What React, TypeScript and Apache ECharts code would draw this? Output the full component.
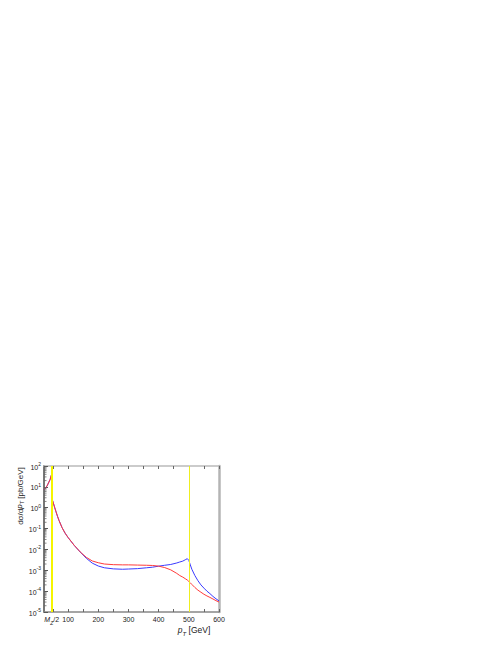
import React, { useEffect, useRef } from "react";
import * as echarts from "echarts";

const pT = [20, 30, 40, 44, 45.6, 46, 48, 50, 55, 60, 65, 70, 80, 90, 100, 120, 140, 160, 180, 200, 220, 250, 280, 300, 330, 360, 380, 400, 420, 440, 460, 470, 480, 490, 495, 500, 505, 510, 520, 530, 540, 550, 560, 570, 580, 590, 600];
const redVals = [7.2, 11, 22, 35, 42, 2.8, 2.3, 1.86, 1.07, 0.63, 0.38, 0.24, 0.11, 0.06, 0.037, 0.0158, 0.0076, 0.0042, 0.0028, 0.0023, 0.002, 0.00186, 0.00182, 0.00182, 0.00178, 0.00174, 0.0017, 0.00158, 0.00135, 0.00105, 0.00071, 0.00056, 0.00047, 0.00038, 0.00034, 0.00029, 0.00025, 0.00021, 0.00015, 0.000112, 0.000089, 0.000071, 0.000059, 0.00005, 0.000042, 0.000035, 0.00003];
const blueVals = [7.2, 11, 22, 35, 42, 2.8, 2.3, 1.86, 1.07, 0.63, 0.38, 0.24, 0.11, 0.06, 0.037, 0.0157, 0.0075, 0.0038, 0.0022, 0.0016, 0.00132, 0.00117, 0.00112, 0.00115, 0.0012, 0.00132, 0.00141, 0.00158, 0.00174, 0.0019, 0.00224, 0.0025, 0.00275, 0.0033, 0.0036, 0.003, 0.0018, 0.00112, 0.00056, 0.00032, 0.0002, 0.00014, 0.0001, 0.000076, 0.000056, 0.000043, 0.000034];
const xLabelValues = [45.6, 100, 200, 300, 400, 500, 600];
const xTickValues = [50, 100, 150, 200, 250, 300, 350, 400, 450, 500, 550, 600];
const vLines = [45.6, 500];

const FONT = "Liberation Sans, Arial, sans-serif";

export default function App() {
  const ref = useRef<HTMLDivElement>(null);
  useEffect(() => {
    const chart = echarts.init(ref.current!, null, { renderer: "svg" });
    const minor: number[][] = [];
    for (let e = -5; e < 2; e++) {
      for (let m = 2; m <= 9; m++) minor.push([20, m * Math.pow(10, e)]);
    }
    const supRich = {
      b: { fontSize: 7, fontFamily: FONT, color: "#222", verticalAlign: "bottom" },
      s: { fontSize: 5, fontFamily: FONT, color: "#222", verticalAlign: "bottom", padding: [0, 0, 4, 0] },
    };
    const option: any = {
      animation: false,
      grid: { left: 44, right: 282, top: 466, bottom: 37, containLabel: false },
      xAxis: [
        {
          type: "value",
          min: 20,
          max: 600,
          position: "bottom",
          axisLine: { show: true, onZero: false, lineStyle: { color: "#888", width: 1.5 } },
          axisTick: { show: true, inside: true, length: 3, customValues: xTickValues, lineStyle: { color: "#666" } },
          axisLabel: {
            customValues: xLabelValues,
            margin: 4,
            fontSize: 7,
            fontFamily: FONT,
            color: "#222",
            formatter: (v: number) => (Math.abs(v - 45.6) < 1 ? "{i|M}{sub|Z}{n|/2}" : String(v)),
            rich: {
              i: { fontSize: 7, fontStyle: "italic", fontFamily: FONT, color: "#222", verticalAlign: "bottom", padding: [0, 0, 2, 0] },
              sub: { fontSize: 5, fontStyle: "italic", fontFamily: FONT, color: "#222", verticalAlign: "bottom" },
              n: { fontSize: 7, fontFamily: FONT, color: "#222", verticalAlign: "bottom", padding: [0, 0, 2, 0] },
            },
          },
          splitLine: { show: false },
        },
        {
          type: "value",
          min: 20,
          max: 600,
          position: "top",
          axisLine: { show: true, onZero: false, lineStyle: { color: "#bbb", width: 1.5 } },
          axisTick: { show: true, inside: true, length: 3, customValues: xTickValues, lineStyle: { color: "#666" } },
          axisLabel: { show: false },
          splitLine: { show: false },
        },
      ],
      yAxis: [
        {
          type: "log",
          logBase: 10,
          min: 1e-5,
          max: 100,
          position: "left",
          axisLine: { show: true, onZero: false, lineStyle: { color: "#777", width: 2 } },
          axisTick: { show: true, inside: true, length: 4, lineStyle: { color: "#555" } },
          axisLabel: {
            margin: 3,
            formatter: (v: number) => `{b|10}{s|${Math.round(Math.log10(v))}}`,
            rich: supRich,
          },
          splitLine: { show: false },
        },
        {
          type: "log",
          logBase: 10,
          min: 1e-5,
          max: 100,
          position: "right",
          axisLine: { show: true, onZero: false, lineStyle: { color: "#b4b4b4", width: 2.5 } },
          axisTick: { show: false },
          axisLabel: { show: false },
          splitLine: { show: false },
        },
      ],
      series: [
        {
          type: "line",
          name: "marks",
          data: [],
          markLine: {
            silent: true,
            symbol: "none",
            label: { show: false },
            data: [
              { xAxis: vLines[0], lineStyle: { color: "#f5f500", width: 2, type: "solid" } },
              { xAxis: vLines[1], lineStyle: { color: "#eeee20", width: 1, type: "solid" } },
            ],
          },
          z: 1,
        },
        {
          type: "line",
          name: "blue",
          data: pT.map((x, i) => [x, blueVals[i]]),
          showSymbol: false,
          lineStyle: { color: "#3a3aff", width: 1 },
          itemStyle: { color: "#3a3aff" },
          z: 2,
        },
        {
          type: "line",
          name: "red",
          data: pT.map((x, i) => [x, redVals[i]]),
          showSymbol: false,
          lineStyle: { color: "#ff3a3a", width: 1 },
          itemStyle: { color: "#ff3a3a" },
          z: 3,
        },
        {
          type: "custom",
          name: "minorTicks",
          data: minor,
          silent: true,
          clip: false,
          renderItem: (params: any, api: any) => {
            const p = api.coord([20, api.value(1)]);
            return {
              type: "line",
              shape: { x1: p[0], y1: p[1], x2: p[0] + 2.5, y2: p[1] },
              style: { stroke: "#666", lineWidth: 0.8 },
            };
          },
          z: 4,
        },
      ],
      graphic: [
        {
          type: "text",
          x: 20,
          y: 496,
          rotation: Math.PI / 2,
          style: {
            text: "dσ/d{i|p}{sub|T} [pb/GeV]",
            align: "center",
            verticalAlign: "middle",
            fontSize: 8,
            fontFamily: FONT,
            fill: "#222",
            rich: {
              i: { fontSize: 8, fontStyle: "italic", fontFamily: FONT, verticalAlign: "bottom", padding: [0, 0, 2, 0] },
              sub: { fontSize: 5.5, fontStyle: "italic", fontFamily: FONT, verticalAlign: "bottom" },
            },
          },
        },
        {
          type: "text",
          x: 194,
          y: 631,
          style: {
            text: "{i|p}{sub|T}{n| [GeV]}",
            align: "center",
            verticalAlign: "middle",
            fontSize: 8.5,
            fontFamily: FONT,
            fill: "#222",
            rich: {
              i: { fontSize: 8.5, fontStyle: "italic", fontFamily: FONT, verticalAlign: "bottom", padding: [0, 0, 2, 0] },
              sub: { fontSize: 6, fontStyle: "italic", fontFamily: FONT, verticalAlign: "bottom" },
              n: { fontSize: 8.5, fontFamily: FONT, verticalAlign: "bottom", padding: [0, 0, 2, 0] },
            },
          },
        },
      ],
    };
    chart.setOption(option);
    return () => chart.dispose();
  }, []);
  return (
    <div
      ref={ref}
      style={{ position: "absolute", left: 0, top: 0, width: 501, height: 649, background: "#fff" }}
    />
  );
}
